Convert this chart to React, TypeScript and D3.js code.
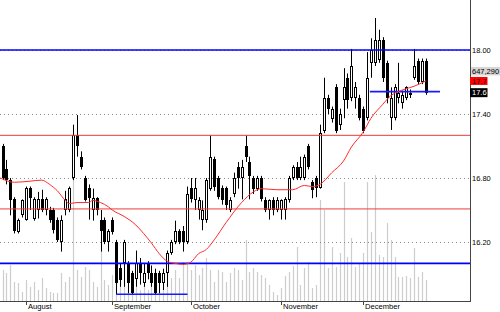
import React from 'react';
import * as d3 from 'd3';

const OPEN = [17.10,16.88,16.78,16.60,16.29,16.45,16.41,16.71,16.42,16.50,16.60,16.50,16.50,16.50,16.41,16.20,16.50,16.50,16.80,17.20,17.00,16.80,16.71,16.50,16.61,16.41,16.41,16.20,16.41,16.20,15.96,16.00,16.00,15.91,15.85,16.00,15.82,16.00,15.91,15.91,15.91,15.82,15.91,16.10,16.20,16.30,16.30,16.20,16.71,16.59,16.50,16.41,16.41,16.70,16.98,16.80,16.71,16.71,16.50,16.65,16.90,16.80,17.10,16.95,16.80,16.70,16.80,16.59,16.50,16.59,16.50,16.50,16.50,16.59,16.80,16.90,16.80,16.80,17.10,16.76,16.80,16.71,17.24,17.55,17.35,17.65,17.30,17.53,17.74,17.55,17.55,17.55,17.45,17.36,17.88,17.88,17.91,18.09,17.88,17.36,17.36,17.55,17.50,17.55,17.58,17.74,17.90,17.70,17.90];
const HIGH = [17.12,16.97,16.80,16.62,16.42,16.60,16.72,16.72,16.62,16.67,16.69,16.62,16.53,16.52,16.43,16.45,16.68,16.72,17.30,17.39,17.05,16.82,16.74,16.70,16.62,16.50,16.43,16.32,16.43,16.22,16.00,16.22,16.02,15.93,16.12,16.05,16.00,16.02,15.98,15.95,15.93,15.95,16.12,16.22,16.40,16.32,16.35,16.72,16.80,16.80,16.62,16.59,16.80,17.20,17.00,16.82,16.73,16.72,16.62,16.85,16.95,16.97,17.20,17.00,16.82,16.82,16.82,16.62,16.60,16.62,16.62,16.60,16.62,16.82,16.92,16.95,17.00,17.02,17.12,16.78,16.82,17.30,17.74,17.58,17.47,17.68,17.45,17.83,17.78,18.01,17.70,17.58,17.47,17.98,18.11,18.30,18.19,18.12,17.90,17.65,17.68,17.88,17.62,17.66,17.63,18.01,17.92,17.92,17.92];
const LOW = [16.78,16.74,16.45,16.28,16.28,16.43,16.40,16.50,16.40,16.42,16.48,16.45,16.38,16.28,16.20,16.11,16.45,16.48,16.78,17.00,16.88,16.58,16.41,16.40,16.45,16.11,16.18,16.11,16.27,15.71,15.78,15.78,15.72,15.71,15.78,15.80,15.78,15.85,15.78,15.71,15.72,15.75,15.78,16.08,16.18,16.18,16.11,16.18,16.57,16.50,16.41,16.31,16.38,16.68,16.68,16.60,16.55,16.50,16.48,16.62,16.70,16.60,16.95,16.60,16.65,16.68,16.58,16.48,16.41,16.45,16.48,16.41,16.41,16.57,16.78,16.78,16.78,16.78,16.88,16.61,16.62,16.70,17.22,17.40,17.32,17.22,17.25,17.36,17.45,17.52,17.45,17.34,17.22,17.34,17.74,17.85,17.88,17.70,17.50,17.25,17.34,17.50,17.45,17.53,17.55,17.72,17.68,17.68,17.58];
const CLOSE = [16.80,16.78,16.59,16.30,16.41,16.59,16.71,16.61,16.60,16.60,16.50,16.60,16.41,16.31,16.22,16.41,16.60,16.71,17.20,17.10,16.90,16.59,16.61,16.61,16.50,16.30,16.20,16.30,16.29,15.82,15.84,16.20,15.82,15.72,16.00,15.91,15.91,15.91,15.82,15.72,15.82,15.91,16.10,16.20,16.30,16.20,16.20,16.65,16.60,16.71,16.59,16.50,16.78,17.00,16.72,16.62,16.59,16.55,16.59,16.80,16.80,16.90,17.00,16.82,16.70,16.80,16.60,16.50,16.59,16.50,16.59,16.59,16.60,16.80,16.90,16.80,16.90,17.00,16.90,16.69,16.71,17.22,17.55,17.45,17.45,17.24,17.40,17.65,17.53,17.85,17.65,17.36,17.24,17.74,18.00,18.09,18.09,17.74,17.55,17.55,17.65,17.60,17.58,17.65,17.60,17.85,17.70,17.90,17.60];
const VOLUME = [956000,863000,1110000,586000,555000,277000,647000,432000,586000,339000,709000,401000,277000,247000,247000,863000,586000,740000,3730000,956000,740000,1048000,956000,586000,432000,1881000,647000,493000,802000,1110000,555000,647000,462000,586000,432000,339000,462000,339000,524000,401000,308000,462000,555000,709000,956000,709000,1202000,1202000,956000,1110000,802000,1017000,1326000,956000,586000,956000,894000,586000,863000,1017000,956000,647000,1881000,894000,1017000,894000,802000,709000,493000,277000,185000,401000,771000,894000,1079000,1665000,493000,1017000,1202000,401000,493000,3114000,2806000,1017000,1665000,1048000,1480000,3669000,1357000,1942000,1048000,1172000,1480000,3669000,2127000,3885000,1418000,1357000,2405000,1881000,1357000,740000,740000,771000,709000,1634000,740000,894000,647290];

const MA_INDEX = [-0.6,3,7,10,12,14,16,17,19,22,23,25,27,28,31,34,36,38,40,42,44,46,48,50,52,54,57,61,64,66,70,74,77,79,81,84,87,89,92,94,97,99,102,105,108];
const MA_VALUE = [16.80,16.76,16.77,16.78,16.74,16.68,16.59,16.56,16.57,16.57,16.59,16.57,16.53,16.50,16.44,16.36,16.28,16.19,16.09,16.02,16.00,15.99,16.01,16.09,16.13,16.22,16.38,16.57,16.67,16.70,16.69,16.69,16.73,16.72,16.74,16.85,16.96,17.09,17.23,17.36,17.49,17.57,17.625,17.66,17.71];

const MONTHS = ['August', 'September', 'October', 'November', 'December'];
const MONTH_START = [6, 28, 48, 71, 92];
const PRICE_TICKS = [16.2, 16.8, 17.4, 18.0];
const BLUE_LEVELS = [18.0, 16.0];
const RED_LEVELS = [17.2, 16.51];
const SUPPORT_VALUE = [17.61, 15.71];
const SUPPORT_FROM = [93.7, 29.0];
const SUPPORT_TO = [111.6, 47.2];
const LAST_VOLUME_TEXT = '647,290';

const FONT = '"Liberation Sans", Arial, sans-serif';

export default function App() {
  const W = 500, H = 312, PR = 470, PB = 301;
  const n = OPEN.length;
  const x = d3.scaleLinear().domain([0, n - 1]).range([2.5, 2.5 + 3.92 * (n - 1)]);
  const y = d3.scaleLinear().domain([16.2, 18.0]).range([242, 50]);
  const v = d3.scaleLinear().domain([0, 647290]).range([PB, PB - 21]);
  const fmt = d3.format('.2f');

  const maPath = d3.line<number>()
    .x((_, k) => x(MA_INDEX[k]))
    .y(d => y(d))
    .curve(d3.curveMonotoneX)(MA_VALUE) || '';

  const lastClose = CLOSE[n - 1];
  const lastMA = MA_VALUE[MA_VALUE.length - 1];
  const maY = y(lastMA);
  const pY = y(lastClose);

  return (
    <svg width={W} height={H} style={{ position: 'absolute', left: 0, top: 0, display: 'block', background: '#fff' }} fontFamily={FONT}>
      <rect x={0} y={0} width={W} height={H} fill="#fff" />
      {/* volume */}
      <g>
        {VOLUME.map((vol, i) => {
          const cx = Math.round(x(i)) + 0.5;
          return <line key={i} x1={cx} x2={cx} y1={PB} y2={v(vol)} stroke="#cdcdcd" strokeWidth={1.2} />;
        })}
      </g>
      {/* grid */}
      <g>
        {PRICE_TICKS.map(t => (
          <line key={t} x1={0} x2={PR} y1={Math.round(y(t)) + 0.5} y2={Math.round(y(t)) + 0.5} stroke="#8a8a8a" strokeWidth={1} strokeDasharray="1,3" />
        ))}
      </g>
      {/* candles */}
      <g>
        {OPEN.map((o, i) => {
          const c = CLOSE[i];
          const cx = Math.round(x(i));
          const top = Math.round(y(Math.max(o, c)));
          const bot = Math.round(y(Math.min(o, c)));
          const up = c >= o;
          return (
            <g key={i}>
              <line x1={cx + 0.5} x2={cx + 0.5} y1={y(HIGH[i])} y2={y(LOW[i])} stroke="#000" strokeWidth={1} />
              {up ? (
                <rect x={cx - 0.5} y={top + 0.5} width={2} height={Math.max(bot - top - 1, 1)} fill="#fff" stroke="#000" strokeWidth={1} />
              ) : (
                <rect x={cx - 1} y={top} width={3} height={Math.max(bot - top, 1)} fill="#000" />
              )}
            </g>
          );
        })}
      </g>
      {/* levels */}
      <g>
        {RED_LEVELS.map(l => (
          <line key={l} x1={0} x2={PR} y1={y(l)} y2={y(l)} stroke="#f03c3c" strokeWidth={1} />
        ))}
        {BLUE_LEVELS.map(l => (
          <line key={l} x1={0} x2={PR} y1={y(l)} y2={y(l)} stroke="#0000ff" strokeWidth={1.6} />
        ))}
        {SUPPORT_VALUE.map((l, k) => (
          <line key={l} x1={x(SUPPORT_FROM[k])} x2={x(SUPPORT_TO[k])} y1={y(l)} y2={y(l)} stroke="#1a1aff" strokeWidth={1.6} />
        ))}
      </g>
      {/* moving average */}
      <path d={maPath} fill="none" stroke="#ff2a2a" strokeWidth={1} />
      {/* axes */}
      <line x1={PR + 0.5} x2={PR + 0.5} y1={0} y2={PB + 1} stroke="#444" strokeWidth={1} />
      <line x1={0} x2={PR + 1} y1={PB + 0.5} y2={PB + 0.5} stroke="#444" strokeWidth={1} />
      {PRICE_TICKS.map(t => (
        <text key={t} x={PR + 2} y={y(t) + 2.7} fontSize={7.5} fill="#000">{fmt(t)}</text>
      ))}
      {MONTHS.map((m, k) => {
        const tx = Math.round(x(MONTH_START[k])) + 0.5;
        return (
          <g key={m}>
            <line x1={tx} x2={tx} y1={PB + 1} y2={PB + 4} stroke="#444" strokeWidth={1} />
            <text x={tx + 1.5} y={308.5} fontSize={7.6} fill="#000">{m}</text>
          </g>
        );
      })}
      {/* last value boxes */}
      <rect x={PR + 1} y={maY - 14} width={W - PR - 1} height={8.5} fill="#d6d6d6" />
      <text x={PR + 2} y={maY - 7} fontSize={7.5} fill="#000">{LAST_VOLUME_TEXT}</text>
      <rect x={PR} y={maY - 4} width={17.5} height={8} fill="#ff0000" />
      <text x={PR + 2} y={maY + 2.8} fontSize={7.5} fill="#111">{d3.format('.1f')(lastMA)}</text>
      <rect x={PR} y={pY - 4.5} width={17.5} height={9} fill="#000" />
      <text x={PR + 2} y={pY + 2.6} fontSize={7.5} fill="#fff">{d3.format('.1f')(lastClose)}</text>
    </svg>
  );
}
